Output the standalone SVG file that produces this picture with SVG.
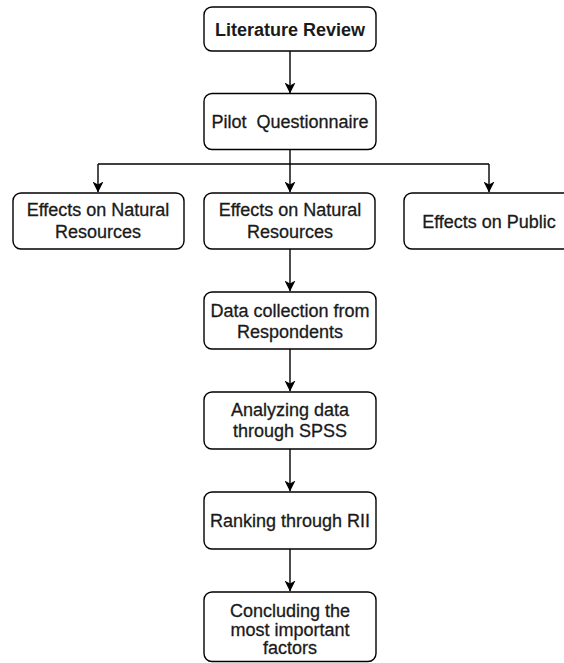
<svg xmlns="http://www.w3.org/2000/svg" width="564" height="663" viewBox="0 0 564 663">
<defs>
<marker id="arr" markerUnits="userSpaceOnUse" markerWidth="11" markerHeight="11" viewBox="0 0 11 11" refX="10.5" refY="5.5" orient="auto">
<path d="M0,0 L11,5.5 L0,11 L3,5.5 z" fill="#000"/>
</marker>
<style>
.box{fill:#fff;stroke:#000;stroke-width:1.4}
.t{font-family:"Liberation Sans",Arial,sans-serif;font-size:18px;fill:#1a1a1a;stroke:#1a1a1a;stroke-width:0.3;text-anchor:middle}
.b{font-weight:bold;stroke-width:0}
.c{fill:none;stroke:#000;stroke-width:1.4}
</style>
</defs>
<rect width="564" height="663" fill="#fff"/>
<g id="connectors">
<path class="c" d="M290,51 V93" marker-end="url(#arr)"/>
<path class="c" d="M290,149 V164"/>
<path class="c" d="M98,164 H489"/>
<path class="c" d="M98,164 V192" marker-end="url(#arr)"/>
<path class="c" d="M290,164 V192" marker-end="url(#arr)"/>
<path class="c" d="M489,164 V192" marker-end="url(#arr)"/>
<path class="c" d="M290,249 V291" marker-end="url(#arr)"/>
<path class="c" d="M290,349 V391" marker-end="url(#arr)"/>
<path class="c" d="M290,449 V491" marker-end="url(#arr)"/>
<path class="c" d="M290,549 V591" marker-end="url(#arr)"/>
</g>
<g id="literature-review">
<rect class="box" x="204" y="7" width="172" height="44" rx="8"/>
<text class="t b" x="290" y="35.5">Literature Review</text>
</g>
<g id="pilot-questionnaire">
<rect class="box" x="204" y="93.5" width="172" height="56" rx="8"/>
<text class="t" x="290" y="127.5" xml:space="preserve">Pilot  Questionnaire</text>
</g>
<g id="effects-natural-1">
<rect class="box" x="13" y="193" width="171" height="56" rx="8"/>
<text class="t" x="98" y="215.5">Effects on Natural</text>
<text class="t" x="98" y="237.5">Resources</text>
</g>
<g id="effects-natural-2">
<rect class="box" x="204" y="193" width="171" height="56" rx="8"/>
<text class="t" x="290" y="215.5">Effects on Natural</text>
<text class="t" x="290" y="237.5">Resources</text>
</g>
<g id="effects-public">
<rect class="box" x="404" y="193" width="170" height="56" rx="8"/>
<text class="t" x="489" y="227.5">Effects on Public</text>
</g>
<g id="data-collection">
<rect class="box" x="204" y="292" width="172" height="57" rx="8"/>
<text class="t" x="290" y="316.5">Data collection from</text>
<text class="t" x="290" y="337.5">Respondents</text>
</g>
<g id="analyzing">
<rect class="box" x="204" y="392" width="172" height="57" rx="8"/>
<text class="t" x="290" y="416">Analyzing data</text>
<text class="t" x="290" y="437">through SPSS</text>
</g>
<g id="ranking">
<rect class="box" x="204" y="492" width="172" height="57" rx="8"/>
<text class="t" x="290" y="526.5">Ranking through RII</text>
</g>
<g id="concluding">
<rect class="box" x="204" y="592" width="172" height="69.5" rx="8"/>
<text class="t" x="290" y="617">Concluding the</text>
<text class="t" x="290" y="635.5">most important</text>
<text class="t" x="290" y="654">factors</text>
</g>
</svg>
